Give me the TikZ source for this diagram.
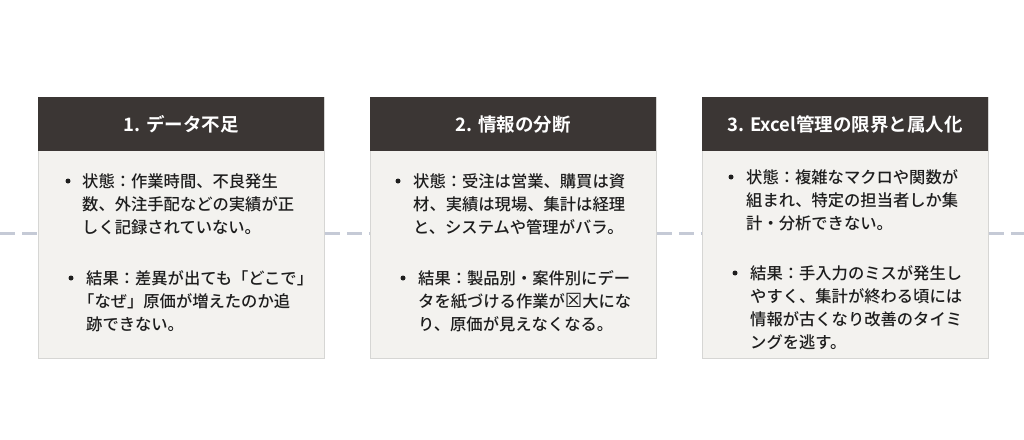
\documentclass[tikz,border=0pt]{standalone}
\usepackage{fontspec}
\setmainfont{Noto Sans CJK JP Medium}[BoldFont={Noto Sans CJK JP Bold}]
\newfontfamily\symfont{DejaVu Sans}
\definecolor{hdrcol}{HTML}{3B3634}
\definecolor{bodycol}{HTML}{F3F2EF}
\definecolor{bordercol}{HTML}{D6D6D4}
\definecolor{txtcol}{HTML}{1E1E1E}
\definecolor{dashcol}{HTML}{C5CAD6}
\begin{document}
\begin{tikzpicture}[x=1pt,y=-1pt,
  panel/.style={fill=bodycol, draw=bordercol, line width=0.8pt, minimum width=286pt, minimum height=261pt, anchor=north west, inner sep=0},
  hdr/.style={fill=hdrcol, draw=none, minimum width=286pt, minimum height=54pt, inner sep=0, anchor=north west, text=white, font=\fontsize{18.5}{22}\selectfont\bfseries},
  item/.style={anchor=base west, inner sep=0, text width=250pt, align=left, font=\fontsize{16.3}{23}\selectfont, text=txtcol},
  dot/.style={circle, fill=txtcol, inner sep=0, minimum size=5pt},
  dashline/.style={draw=dashcol, line width=3pt, dash pattern=on 15pt off 7pt}]
\useasboundingbox (0,0) rectangle (1024,439);
\coordinate (L) at (0,233);
\coordinate (R) at (1024,233);
% panels
\node[panel] (b1) at (38,97) {};
\node[panel] (b2) at (370,97) {};
\node[panel] (b3) at (702,97) {};
% dashed line between panels
\draw[dashline] (L) -- (b1.west |- L);
\draw[dashline] (b1.east |- L) -- (b2.west |- L);
\draw[dashline] (b2.east |- L) -- (b3.west |- L);
\draw[dashline] (b3.east |- L) -- (R);
% headers
\node[hdr] (h1) at (38,97) {1. データ不足};
\node[hdr] (h2) at (370,97) {2. 情報の分断};
\node[hdr] (h3) at (702,97) {3. Excel管理の限界と属人化};
% panel 1
\node[dot] (d11) at (68,181) {};
\node[item] (t11) at (82,187) {状態：作業時間、不良発生\\数、外注手配などの実績が正\\しく記録されていない。};
\node[dot] (d12) at (71,278) {};
\node[item] (t12) at (86,284) {結果：差異が出ても「どこで」\\\hspace*{-8pt}「なぜ」原価が増えたのか追\\跡できない。};
% panel 2
\node[dot] (d21) at (398,181) {};
\node[item] (t21) at (413,187) {状態：受注は営業、購買は資\\材、実績は現場、集計は経理\\と、システムや管理がバラ。};
\node[dot] (d22) at (403,278) {};
\node[item] (t22) at (418,284) {結果：製品別・案件別にデー\\タを紙づける作業が{\symfont\fontsize{19.5}{23}\selectfont ☒}大にな\\り、原価が見えなくなる。};
% panel 3
\node[dot] (d31) at (731,177) {};
\node[item] (t31) at (746,183) {状態：複雑なマクロや関数が\\組まれ、特定の担当者しか集\\計・分析できない。};
\node[dot] (d32) at (735,273) {};
\node[item] (t32) at (750,279) {結果：手入力のミスが発生し\\やすく、集計が終わる頃には\\情報が古くなり改善のタイミ\\ングを逃す。};
\end{tikzpicture}
\end{document}
